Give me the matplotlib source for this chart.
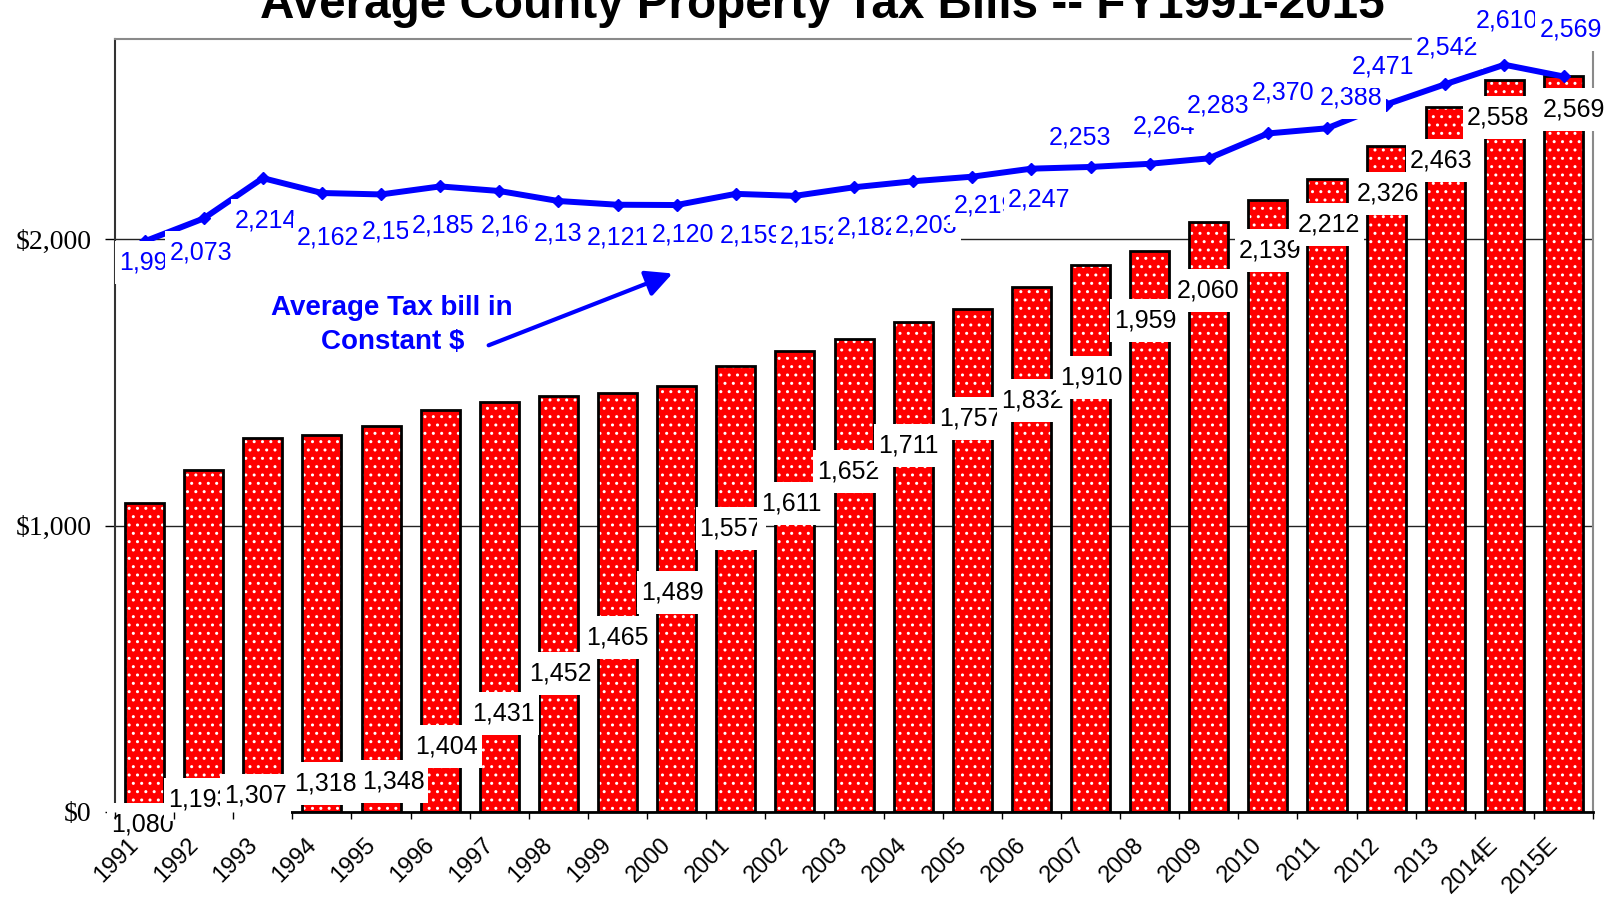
import matplotlib
matplotlib.use("Agg")
import matplotlib.pyplot as plt
from matplotlib.path import Path
from matplotlib.transforms import ScaledTranslation

# ---- data ----
years = ["1991", "1992", "1993", "1994", "1995", "1996", "1997", "1998", "1999",
         "2000", "2001", "2002", "2003", "2004", "2005", "2006", "2007", "2008",
         "2009", "2010", "2011", "2012", "2013", "2014E", "2015E"]
nominal_bill = [1080, 1193, 1307, 1318, 1348, 1404, 1431, 1452, 1465, 1489, 1557,
                1611, 1652, 1711, 1757, 1832, 1910, 1959, 2060, 2139, 2212, 2326,
                2463, 2558, 2569]
constant_bill = [1993, 2073, 2214, 2162, 2157, 2185, 2169, 2134, 2121, 2120, 2159,
                 2152, 2182, 2203, 2219, 2247, 2253, 2264, 2283, 2370, 2388, 2471,
                 2542, 2610, 2569]
y_ticks = [0, 1000, 2000]
y_ticklabels = ["$0", "$1,000", "$2,000"]
title = "Average County Property Tax Bills -- FY1991-2015"
note = "Average Tax bill in\nConstant $"

# ---- label placement (as in the original slide) ----
bar_label_y = [-45, 45, 59, 98, 106, 229, 344, 485, 611, 768, 991, 1078, 1190, 1280,
               1373, 1438, 1518, 1715, 1823, 1960, 2053, 2161, 2276, 2427, 2453]
bar_label_dx = [-2, -4, -7, 4, 12, 6, 4, 2, 0, -4, -5, -4, -6, -5, -2, 1, 1, -4, -1,
                2, 2, 2, -4, -6, 10]
line_label_y = [1918, 1955, 2066, 2005, 2029, 2050, 2050, 2019, 2005, 2016, 2012,
                2009, 2040, 2047, 2120, 2141, 2356, 2394, 2468, 2513, 2496, 2604,
                2670, 2764, 2733]
line_label_dx = [6, -3, 3, 6, 12, 3, 13, 7, 0, 6, 15, 16, 14, 13, 13, 8, -11, 14, 9,
                 15, 24, -3, 2, 3, 7]

RED = "#FF0000"
BLUE = "#0000FF"
SANS = ["Liberation Sans", "DejaVu Sans"]
SERIF = ["Liberation Serif", "DejaVu Serif"]


def label_box(x0, y0, width, height, mutation_size):
    px = 0.16 * mutation_size
    py = 0.38 * mutation_size
    return Path([(x0 - px, y0 - py), (x0 + width + px, y0 - py),
                 (x0 + width + px, y0 + height + py), (x0 - px, y0 + height + py),
                 (x0 - px, y0 - py)], closed=True)


fig = plt.figure(figsize=(16.17, 8.98), dpi=100)
ax = fig.add_axes([0.0711, 0.0958, 0.9141, 0.8608])

x = list(range(len(years)))

# bars: red with white dots, black outline
ax.bar(x, nominal_bill, width=0.66, color=RED, edgecolor="white", linewidth=0,
       hatch="..", zorder=2)
ax.bar(x, nominal_bill, width=0.66, fill=False, edgecolor="black", linewidth=2,
       zorder=2.1)

# line
ax.plot(x, constant_bill, color=BLUE, lw=4.3, marker="D", ms=6, zorder=4)

ax.set_xlim(-0.5, len(years) - 0.5)
ax.set_ylim(0, 2700)

# grid
ax.set_axisbelow(True)
ax.yaxis.grid(True, color="#222222", lw=1.0)
ax.set_yticks(y_ticks, y_ticklabels)
for lab in ax.get_yticklabels():
    lab.set_fontfamily(SERIF)
    lab.set_fontsize(20)
ax.tick_params(axis="y", length=7, width=1, pad=10, direction="out")

# x ticks: labels at centers, marks at boundaries
ax.set_xticks(x, years, rotation=45, ha="right", va="center", rotation_mode="anchor",
              fontsize=17, family=SANS)
ax.set_xticks([i - 0.5 for i in range(len(years) + 1)], minor=True)
ax.tick_params(axis="x", which="major", length=0, pad=21)
ax.tick_params(axis="x", which="minor", length=5, width=1, direction="out")
offs = ScaledTranslation(-9 / 100, 0, fig.dpi_scale_trans)
for lab in ax.get_xticklabels():
    lab.set_transform(lab.get_transform() + offs)
ax.xaxis.set_zorder(8)

# spines
ax.spines["left"].set_color("#333333")
ax.spines["left"].set_linewidth(1.5)
ax.spines["bottom"].set_color("black")
ax.spines["bottom"].set_linewidth(2)
for s in ("top", "right"):
    ax.spines[s].set_color("#8a8a8a")
    ax.spines[s].set_linewidth(1.5)

box = dict(boxstyle=label_box, facecolor="white", edgecolor="none")

# bar labels
for i, v in enumerate(nominal_bill):
    ax.annotate(f"{v:,}", xy=(i, bar_label_y[i]), xytext=(bar_label_dx[i] * 0.72, 0),
                textcoords="offset points", ha="center", va="center", fontsize=18,
                family=SANS, color="black", bbox=box, zorder=6, annotation_clip=False)

# line labels
for i, v in enumerate(constant_bill):
    ax.annotate(f"{v:,}", xy=(i, line_label_y[i]), xytext=(line_label_dx[i] * 0.72, 0),
                textcoords="offset points", ha="center", va="center", fontsize=18,
                family=SANS, color=BLUE, bbox=box, zorder=7, annotation_clip=False)

# note and arrow
ax.text(4.19, 1700, note, ha="center", va="center", multialignment="center",
        fontsize=20, fontweight="bold", color=BLUE, family=SANS, linespacing=1.38,
        zorder=5)
ax.annotate("", xy=(8.93, 1881), xytext=(5.82, 1630),
            arrowprops=dict(arrowstyle="-|>,head_length=0.8,head_width=0.4", lw=3,
                            color=BLUE, shrinkA=0, shrinkB=0, mutation_scale=20),
            zorder=5)

fig.text(0.5085, 1 - 17.5 / 898, title, ha="center", va="baseline", fontsize=34.3,
         fontweight="bold", family=SANS)

fig.savefig("out.png", dpi=100)
